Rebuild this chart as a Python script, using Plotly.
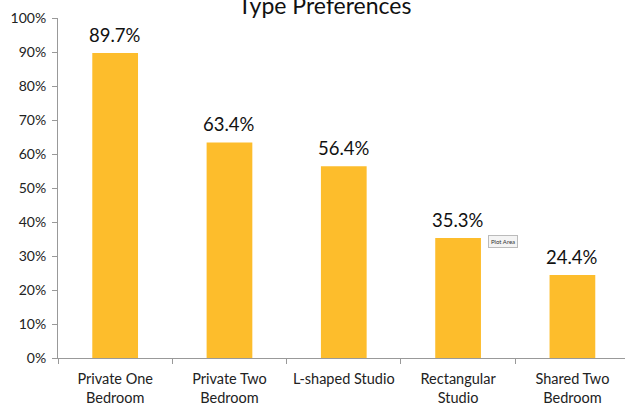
import plotly.graph_objects as go

categories = ["Private One<br>Bedroom", "Private Two<br>Bedroom", "L-shaped Studio",
              "Rectangular<br>Studio", "Shared Two<br>Bedroom"]
values = [89.7, 63.4, 56.4, 35.3, 24.4]
labels = [f"{v:.1f}%" for v in values]
title = "Type Preferences"

fig = go.Figure(go.Bar(
    x=categories, y=values,
    marker=dict(color="#FDBD2C", line=dict(width=0)),
    width=0.4,
))

anns = [
    dict(text=title, xref="paper", yref="paper", x=(325 - 58) / 567, y=1 + (18 - 5) / 340,
         xanchor="center", yanchor="middle", showarrow=False,
         font=dict(size=23, color="#111")),
    dict(text="Plot Area", xref="paper", yref="paper", x=(503 - 58) / 567, y=(358 - 241) / 340,
         xanchor="center", yanchor="middle", showarrow=False,
         font=dict(size=6, color="#333"), bgcolor="#f4f4f4", bordercolor="#bbb",
         borderwidth=1, borderpad=2),
]
for c, v, t in zip(categories, values, labels):
    anns.append(dict(text=t, x=c, y=v, xref="x", yref="y", yshift=18, showarrow=False,
                     xanchor="center", yanchor="middle",
                     font=dict(size=18.5, color="#111")))

fig.update_layout(
    width=625, height=405,
    margin=dict(l=58, r=0, t=18, b=47),
    plot_bgcolor="white", paper_bgcolor="white",
    showlegend=False,
    font=dict(family="Lato, Noto Sans, sans-serif", color="#222", size=13),
    xaxis=dict(range=[-0.5, 4.46], showline=True, linecolor="#999", linewidth=1,
               ticks="outside", tickson="boundaries", ticklen=5, tickcolor="#999",
               ticklabelstandoff=8,
               tickfont=dict(size=14.5, color="#222"), showgrid=False, automargin=False),
    yaxis=dict(range=[0, 100], dtick=10, ticksuffix="%", showline=True, linecolor="#999",
               linewidth=1, ticks="outside", ticklen=5, tickcolor="#999", automargin=False,
               ticklabelstandoff=3,
               showgrid=False, zeroline=False, tickfont=dict(size=14, color="#222")),
    annotations=anns,
)

fig.write_html("out.html", config={"displayModeBar": False},
               post_script="document.body.style.margin='0';document.body.style.overflow='hidden';")
